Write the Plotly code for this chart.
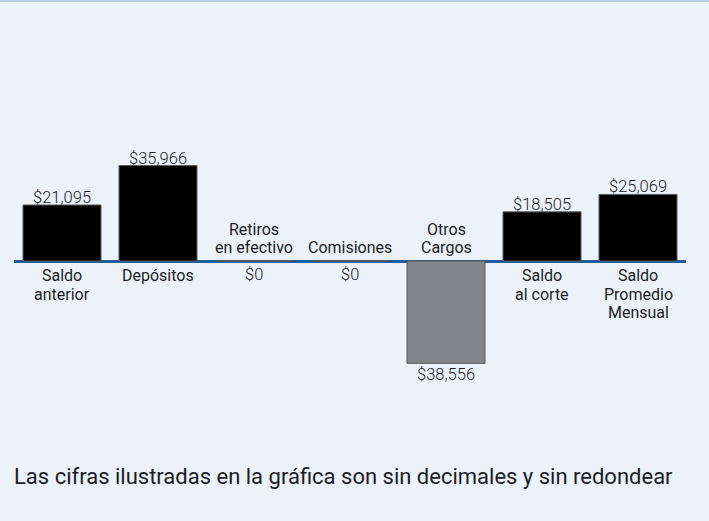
import plotly.graph_objects as go

categories = ["Saldo<br>anterior", "Depósitos", "Retiros<br>en efectivo", "Comisiones",
              "Otros<br>Cargos", "Saldo<br>al corte", "Saldo<br>Promedio<br>Mensual"]
values = [21095, 35966, 0, 0, -38556, 18505, 25069]
value_labels = ["$21,095", "$35,966", "$0", "$0", "$38,556", "$18,505", "$25,069"]
footer = "Las cifras ilustradas en la gráfica son sin decimales y sin redondear"

BG = "#EBF2FA"
TXT = "#1c1c24"
FONT = "Roboto, 'Open Sans', sans-serif"

W, H = 709, 521
ML, MR, MT, MB = 14, 23, 60, 121
pw, ph = W - ML - MR, H - MT - MB
LH = 18.5  # line spacing of category labels

colors = ["#000000" if v >= 0 else "#80868C" for v in values]
xs = list(range(len(categories)))

fig = go.Figure(go.Bar(
    x=xs, y=values, marker=dict(color=colors, line=dict(color="#5a5a5a", width=1)),
    hoverinfo="skip"))

vfont = dict(size=16.5, color=TXT, family=FONT, weight=300)
cfont = dict(size=16, color=TXT, family=FONT, weight=400)

ann = []


def cat_lines(i, cat, below):
    lines = cat.split("<br>")
    n = len(lines)
    for k, ln in enumerate(lines):
        if below:
            ann.append(dict(x=i, y=0, text=ln, showarrow=False, yanchor="top",
                            yshift=-3 - k * LH, font=cfont))
        else:
            ann.append(dict(x=i, y=0, text=ln, showarrow=False, yanchor="bottom",
                            yshift=2 + (n - 1 - k) * LH, font=cfont))


for i, (v, lab, cat) in enumerate(zip(values, value_labels, categories)):
    if v > 0:
        ann.append(dict(x=i, y=v, text=lab, showarrow=False, yanchor="bottom",
                        yshift=-4, font=vfont))
        cat_lines(i, cat, True)
    elif v < 0:
        ann.append(dict(x=i, y=v, text=lab, showarrow=False, yanchor="top",
                        yshift=0, font=vfont))
        cat_lines(i, cat, False)
    else:
        ann.append(dict(x=i, y=0, text=lab, showarrow=False, yanchor="top",
                        yshift=-2, font=vfont))
        cat_lines(i, cat, False)

ann.append(dict(xref="paper", yref="paper", x=(12 - ML) / pw, y=(MT + ph - 476) / ph,
                xanchor="left", yanchor="middle", showarrow=False, text=footer,
                font=dict(size=22, color=TXT, family=FONT)))

fig.update_layout(
    width=W, height=H,
    margin=dict(l=ML, r=MR, t=MT, b=MB, pad=0),
    paper_bgcolor=BG, plot_bgcolor=BG,
    showlegend=False,
    bargap=0.1875,
    xaxis=dict(range=[-0.5, len(categories) - 0.5], visible=False, fixedrange=True),
    yaxis=dict(range=[-52350, 75700], showgrid=False, showticklabels=False,
               zeroline=True, zerolinecolor="#1F5C99", zerolinewidth=2.5, fixedrange=True),
    annotations=ann,
    shapes=[dict(type="line", xref="paper", yref="paper",
                 x0=-ML / pw, x1=(W - ML) / pw, y0=(MT + ph - 1) / ph, y1=(MT + ph - 1) / ph,
                 line=dict(color="#B7CCE6", width=2))],
)

fig.write_html("out.html", config={"displayModeBar": False},
               post_script="document.body.style.margin='0';")
